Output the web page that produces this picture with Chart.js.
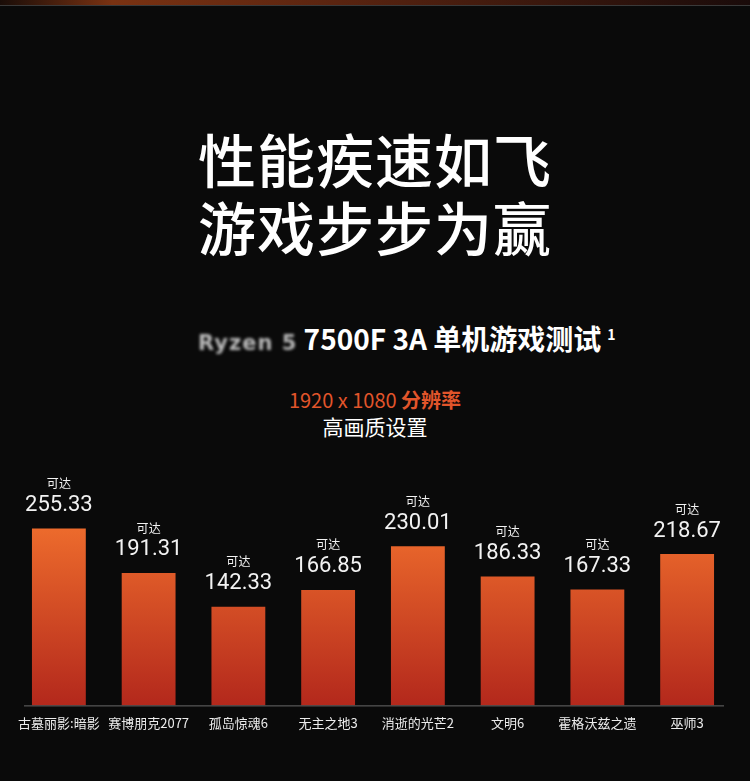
<!DOCTYPE html>
<html lang="zh">
<head>
  <meta charset="UTF-8" />
  <title>7500F 3A 单机游戏测试</title>
  <script src="https://cdn.jsdelivr.net/npm/chart.js"></script>
  <style>
    body {
      margin: 0;
      width: 750px;
      height: 781px;
      background: #0a0a0a;
      font-family: "Noto Sans CJK SC", sans-serif;
      color: #fff;
      position: relative;
      overflow: hidden;
    }

    .topbar {
      position: absolute;
      left: 0; top: 0;
      width: 750px; height: 5px;
      background: linear-gradient(90deg, #1a0d08 0%, #7a3212 15%, #5a2410 45%, #1a0b0a 100%);
      border-bottom: 1px solid #3a3a3a;
    }

    .headline {
      position: absolute;
      left: 0; top: 124px;
      width: 750px;
      text-align: center;
      font-size: 58px;
      font-weight: 500;
      line-height: 68px;
      letter-spacing: 1px;
    }

    .sub {
      position: absolute;
      left: 198px; top: 318px;
      font-size: 28px;
      font-weight: 700;
      white-space: nowrap;
    }
    .sub .hidden {
      color: #bbb;
      filter: blur(1.5px);
      font-family: "DejaVu Sans", sans-serif;
      font-size: 21px;
      letter-spacing: 1px;
    }
    .sub sup { font-size: 14px; margin-left: 6px; }

    .res {
      position: absolute;
      left: 0; top: 387px;
      width: 750px;
      text-align: center;
      font-size: 20px;
      line-height: 26px;
    }
    .res .o { color: #e2552b; }
    .res .w { font-size: 21px; }

    #wrap {
      position: absolute;
      left: 0; top: 440px;
      width: 750px; height: 341px;
    }
  </style>
</head>
<body>
  <div class="topbar"></div>
  <div class="headline">性能疾速如飞<br>游戏步步为赢</div>
  <div class="sub"><span class="hidden">Ryzen 5</span> 7500F 3A 单机游戏测试<sup>1</sup></div>
  <div class="res"><span class="o">1920 x 1080 <b>分辨率</b></span><br><span class="w">高画质设置</span></div>

  <div id="wrap"><canvas id="fps"></canvas></div>

  <script>
    const games = ["古墓丽影:暗影", "赛博朋克2077", "孤岛惊魂6", "无主之地3", "消逝的光芒2", "文明6", "霍格沃兹之遗", "巫师3"];
    const fpsValues = [255.33, 191.31, 142.33, 166.85, 230.01, 186.33, 167.33, 218.67];
    const prefix = "可达";

    // 柱子上方的 "可达" + 数值
    const valueLabels = {
      id: 'valueLabels',
      afterDatasetsDraw(chart) {
        const ctx = chart.ctx;
        const meta = chart.getDatasetMeta(0);
        ctx.save();
        ctx.textAlign = 'center';
        ctx.textBaseline = 'middle';
        ctx.fillStyle = '#f2f2f2';
        meta.data.forEach((bar, i) => {
          ctx.font = '12px "Noto Sans CJK SC"';
          ctx.fillText(prefix, bar.x, bar.y - 45);
          ctx.font = '22px Roboto';
          ctx.fillText(fpsValues[i].toFixed(2), bar.x, bar.y - 23);
        });
        // 底部轴线
        const a = chart.chartArea;
        ctx.strokeStyle = '#6a6a6a';
        ctx.lineWidth = 1;
        ctx.beginPath();
        ctx.moveTo(a.left + 10, a.bottom + 0.5);
        ctx.lineTo(a.right - 8, a.bottom + 0.5);
        ctx.stroke();
        ctx.restore();
      }
    };

    function barGradient(context) {
      const area = context.chart.chartArea;
      if (!area) return '#e0602a';
      const g = context.chart.ctx.createLinearGradient(0, area.top + 60, 0, area.bottom);
      g.addColorStop(0, '#ec6a2c');
      g.addColorStop(1, '#b3281c');
      return g;
    }

    new Chart(document.getElementById('fps'), {
      type: 'bar',
      data: {
        labels: games,
        datasets: [{
          data: fpsValues,
          backgroundColor: barGradient,
          borderWidth: 0,
          barPercentage: 0.6,
          categoryPercentage: 1
        }]
      },
      options: {
        responsive: true,
        maintainAspectRatio: false,
        animation: false,
        layout: { padding: { left: 14, right: 18, top: 30, bottom: 40 } },
        plugins: {
          legend: { display: false },
          tooltip: { enabled: false }
        },
        scales: {
          x: {
            grid: { display: false, drawTicks: false },
            border: { display: false },
            ticks: {
              color: '#ececec',
              padding: 10,
              font: { family: '"Noto Sans CJK SC"', size: 13 },
              maxRotation: 0,
              autoSkip: false
            }
          },
          y: {
            display: false,
            min: 0,
            max: 340
          }
        }
      },
      plugins: [valueLabels]
    });
  </script>
</body>
</html>
